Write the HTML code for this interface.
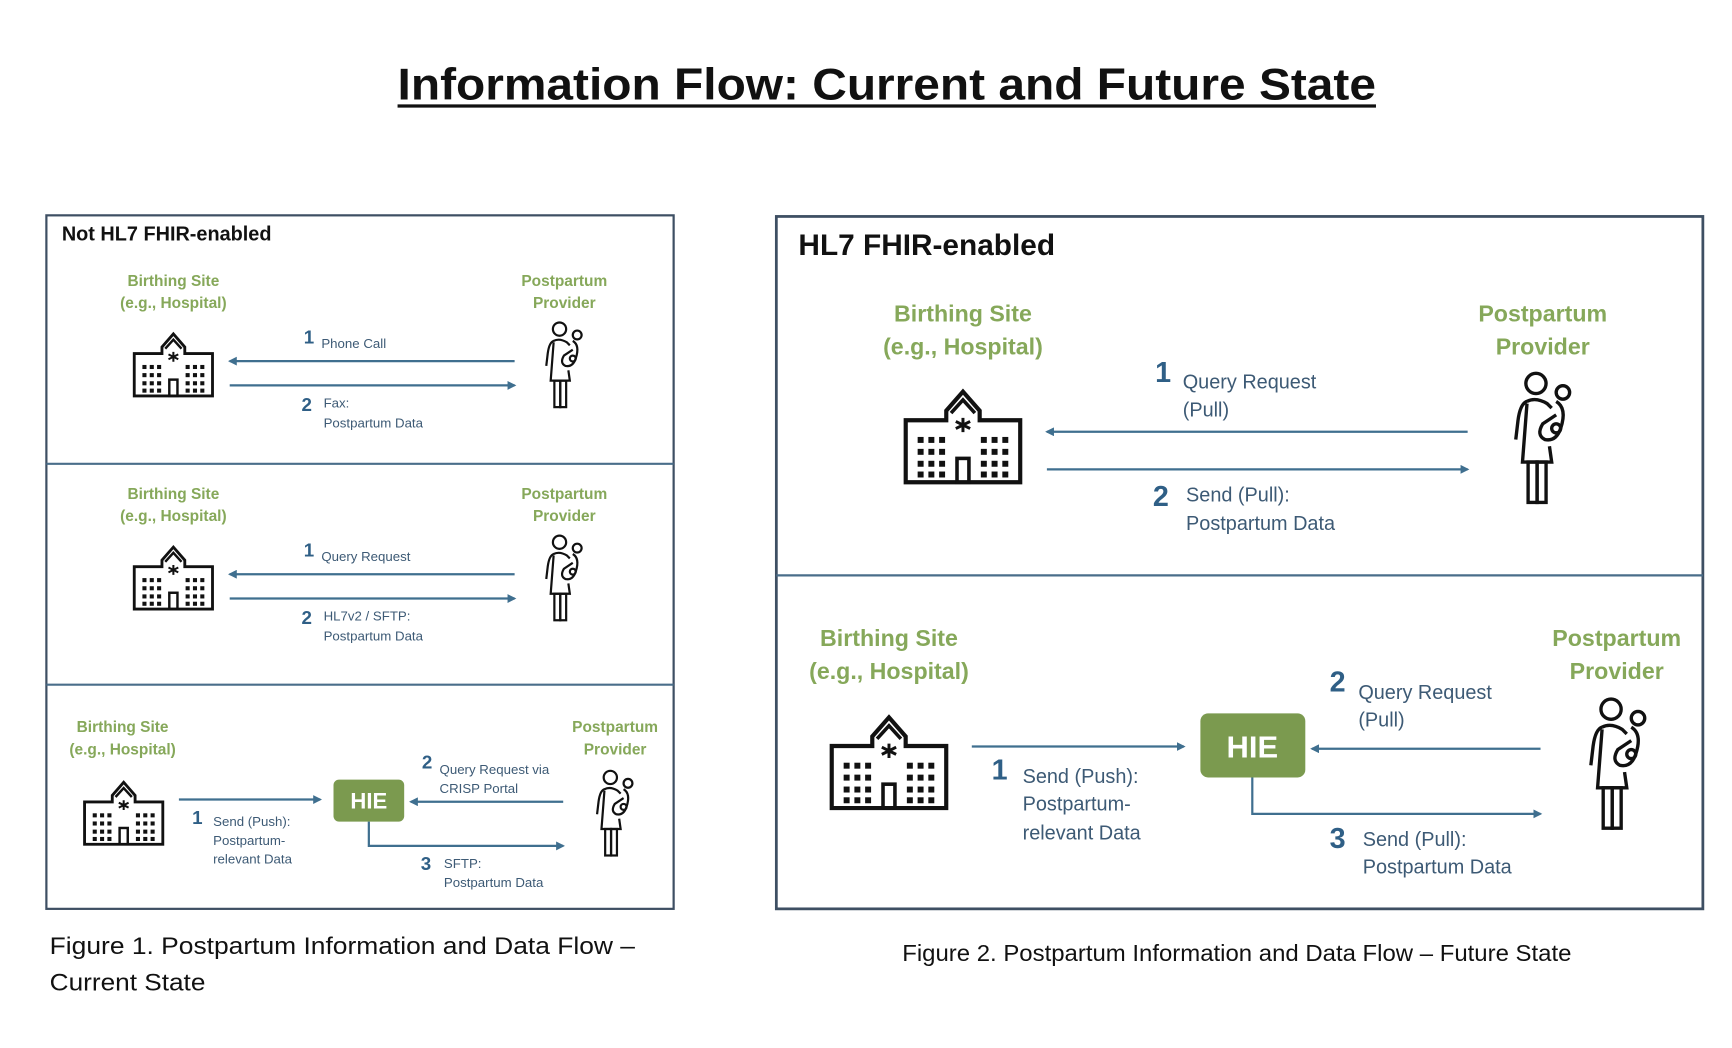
<!DOCTYPE html>
<html><head><meta charset="utf-8"><style>
html,body{margin:0;padding:0;background:#fff;}
svg{display:block;}
text{font-family:"Liberation Sans",sans-serif;}
.g{fill:#86a85a;font-weight:bold;text-anchor:middle;}
.b{fill:#2f5f86;font-weight:bold;}
.t{fill:#3d5a75;}
.ar{stroke:#3f6f8f;stroke-width:2;fill:none;}
</style></head><body>
<svg width="1732" height="1048" viewBox="0 0 1568 949" preserveAspectRatio="xMinYMin meet" xmlns="http://www.w3.org/2000/svg">
<defs>
<marker id="ah" viewBox="0 0 10 10" refX="8" refY="5" markerWidth="4" markerHeight="4" orient="auto"><path d="M0,0 L10,5 L0,10 Z" fill="#3f6f8f"/></marker>
<symbol id="hosp" viewBox="0 0 100 84">
<path d="M2,30 H36 V22 L50,6 L64,22 V30 H98 V82 H2 Z" fill="none" stroke="#111" stroke-width="3.5"/>
<path d="M40,24 L50,13 L60,24" fill="none" stroke="#111" stroke-width="3"/>
<path d="M50,28 V40 M44,31 L56,37 M56,31 L44,37" stroke="#111" stroke-width="2.5"/>
<rect x="45" y="62" width="10" height="20" fill="none" stroke="#111" stroke-width="3"/>
<g fill="#111">
<rect x="12" y="44" width="5" height="5"/><rect x="21" y="44" width="5" height="5"/><rect x="30" y="44" width="5" height="5"/>
<rect x="12" y="54" width="5" height="5"/><rect x="21" y="54" width="5" height="5"/><rect x="30" y="54" width="5" height="5"/>
<rect x="12" y="64" width="5" height="5"/><rect x="21" y="64" width="5" height="5"/><rect x="30" y="64" width="5" height="5"/>
<rect x="12" y="73" width="5" height="5"/><rect x="21" y="73" width="5" height="5"/><rect x="30" y="73" width="5" height="5"/>
<rect x="65" y="44" width="5" height="5"/><rect x="74" y="44" width="5" height="5"/><rect x="83" y="44" width="5" height="5"/>
<rect x="65" y="54" width="5" height="5"/><rect x="74" y="54" width="5" height="5"/><rect x="83" y="54" width="5" height="5"/>
<rect x="65" y="64" width="5" height="5"/><rect x="74" y="64" width="5" height="5"/><rect x="83" y="64" width="5" height="5"/>
<rect x="65" y="73" width="5" height="5"/><rect x="74" y="73" width="5" height="5"/><rect x="83" y="73" width="5" height="5"/>
</g>
</symbol>
<symbol id="pers" viewBox="0 0 60 120">
<g fill="none" stroke="#111" stroke-width="3">
<circle cx="22" cy="12" r="9"/>
<circle cx="46" cy="20" r="6"/>
<path d="M14,28 Q8,30 6,45 L4,62 M14,28 Q22,24 32,30 L36,34"/>
<path d="M14,30 L10,82 H36 L34,68"/>
<path d="M40,28 Q50,34 44,52 Q40,64 30,62 Q22,58 28,48 L40,40"/>
<circle cx="40" cy="52" r="4"/>
<rect x="15" y="82" width="8" height="36"/><rect x="23" y="82" width="8" height="36"/>
</g>
</symbol>
</defs>

<text x="803" y="90" font-size="40" font-weight="bold" text-anchor="middle" textLength="886" lengthAdjust="spacingAndGlyphs" fill="#111">Information Flow: Current and Future State</text>
<line x1="360" y1="96" x2="1246" y2="96" stroke="#111" stroke-width="3"/>

<rect x="42" y="195" width="568" height="628" fill="none" stroke="#3e4f63" stroke-width="2"/>
<line x1="42" y1="420" x2="610" y2="420" stroke="#4a6e8a" stroke-width="2"/>
<line x1="42" y1="620" x2="610" y2="620" stroke="#4a6e8a" stroke-width="2"/>
<text x="56" y="218" font-size="18" font-weight="bold" fill="#111">Not HL7 FHIR-enabled</text>

<g>
<text class="g" x="157" y="259" font-size="14">Birthing Site</text>
<text class="g" x="157" y="279" font-size="14">(e.g., Hospital)</text>
<text class="g" x="511" y="259" font-size="14">Postpartum</text>
<text class="g" x="511" y="279" font-size="14">Provider</text>
<use href="#hosp" x="118" y="298" width="78" height="62"/>
<use href="#pers" x="492" y="290" width="40" height="80"/>
<line class="ar" x1="466" y1="327" x2="208" y2="327" marker-end="url(#ah)"/>
<line class="ar" x1="208" y1="349" x2="466" y2="349" marker-end="url(#ah)"/>
<text class="b" x="275" y="311" font-size="17">1</text>
<text class="t" x="291" y="315" font-size="12">Phone Call</text>
<text class="b" x="273" y="372" font-size="17">2</text>
<text class="t" x="293" y="369" font-size="12">Fax:</text>
<text class="t" x="293" y="387" font-size="12">Postpartum Data</text>
</g>
<g transform="translate(0,193)">
<text class="g" x="157" y="259" font-size="14">Birthing Site</text>
<text class="g" x="157" y="279" font-size="14">(e.g., Hospital)</text>
<text class="g" x="511" y="259" font-size="14">Postpartum</text>
<text class="g" x="511" y="279" font-size="14">Provider</text>
<use href="#hosp" x="118" y="298" width="78" height="62"/>
<use href="#pers" x="492" y="290" width="40" height="80"/>
<line class="ar" x1="466" y1="327" x2="208" y2="327" marker-end="url(#ah)"/>
<line class="ar" x1="208" y1="349" x2="466" y2="349" marker-end="url(#ah)"/>
<text class="b" x="275" y="311" font-size="17">1</text>
<text class="t" x="291" y="315" font-size="12">Query Request</text>
<text class="b" x="273" y="372" font-size="17">2</text>
<text class="t" x="293" y="369" font-size="12">HL7v2 / SFTP:</text>
<text class="t" x="293" y="387" font-size="12">Postpartum Data</text>
</g>
<text class="g" x="111" y="663" font-size="14">Birthing Site</text>
<text class="g" x="111" y="683" font-size="14">(e.g., Hospital)</text>
<text class="g" x="557" y="663" font-size="14">Postpartum</text>
<text class="g" x="557" y="683" font-size="14">Provider</text>
<use href="#hosp" x="73" y="704" width="78" height="62"/>
<use href="#pers" x="538" y="696" width="40" height="80"/>
<rect x="302" y="706" width="64" height="38" rx="5" fill="#7b9a4f"/>
<text x="334" y="732" font-size="20" font-weight="bold" fill="#fff" text-anchor="middle">HIE</text>
<line class="ar" x1="162" y1="724" x2="290" y2="724" marker-end="url(#ah)"/>
<line class="ar" x1="510" y1="726" x2="372" y2="726" marker-end="url(#ah)"/>
<polyline class="ar" points="334,744 334,766 510,766" marker-end="url(#ah)"/>
<text class="b" x="174" y="746" font-size="17">1</text>
<text class="t" x="193" y="748" font-size="12">Send (Push):</text>
<text class="t" x="193" y="765" font-size="12">Postpartum-</text>
<text class="t" x="193" y="782" font-size="12">relevant Data</text>
<text class="b" x="382" y="696" font-size="17">2</text>
<text class="t" x="398" y="701" font-size="12">Query Request via</text>
<text class="t" x="398" y="718" font-size="12">CRISP Portal</text>
<text class="b" x="381" y="788" font-size="17">3</text>
<text class="t" x="402" y="786" font-size="12">SFTP:</text>
<text class="t" x="402" y="803" font-size="12">Postpartum Data</text>

<text x="45" y="864" font-size="22" fill="#111" textLength="530" lengthAdjust="spacingAndGlyphs">Figure 1. Postpartum Information and Data Flow –</text>
<text x="45" y="897" font-size="22" fill="#111" textLength="141" lengthAdjust="spacingAndGlyphs">Current State</text>

<rect x="703" y="196" width="839" height="627" fill="none" stroke="#3e4f63" stroke-width="2.5"/>
<line x1="703" y1="521" x2="1542" y2="521" stroke="#4a6e8a" stroke-width="2"/>
<text x="723" y="231" font-size="27" font-weight="bold" fill="#111">HL7 FHIR-enabled</text>

<text class="g" x="872" y="291" font-size="21">Birthing Site</text>
<text class="g" x="872" y="321" font-size="21">(e.g., Hospital)</text>
<text class="g" x="1397" y="291" font-size="21">Postpartum</text>
<text class="g" x="1397" y="321" font-size="21">Provider</text>
<use href="#hosp" x="818" y="348" width="108" height="91"/>
<use href="#pers" x="1368" y="335" width="62" height="122"/>
<line class="ar" x1="1329" y1="391" x2="948" y2="391" stroke-width="2.5" marker-end="url(#ah)"/>
<line class="ar" x1="948" y1="425" x2="1329" y2="425" stroke-width="2.5" marker-end="url(#ah)"/>
<text class="b" x="1046" y="346" font-size="26">1</text>
<text class="t" x="1071" y="352" font-size="18">Query Request</text>
<text class="t" x="1071" y="377" font-size="18">(Pull)</text>
<text class="b" x="1044" y="458" font-size="26">2</text>
<text class="t" x="1074" y="454" font-size="18">Send (Pull):</text>
<text class="t" x="1074" y="480" font-size="18">Postpartum Data</text>

<text class="g" x="805" y="585" font-size="21">Birthing Site</text>
<text class="g" x="805" y="615" font-size="21">(e.g., Hospital)</text>
<text class="g" x="1464" y="585" font-size="21">Postpartum</text>
<text class="g" x="1464" y="615" font-size="21">Provider</text>
<use href="#hosp" x="751" y="643" width="108" height="91"/>
<use href="#pers" x="1436" y="630" width="62" height="122"/>
<rect x="1087" y="646" width="95" height="58" rx="7" fill="#7b9a4f"/>
<text x="1134" y="686" font-size="28" font-weight="bold" fill="#fff" text-anchor="middle">HIE</text>
<line class="ar" x1="880" y1="676" x2="1072" y2="676" stroke-width="2.5" marker-end="url(#ah)"/>
<line class="ar" x1="1395" y1="678" x2="1188" y2="678" stroke-width="2.5" marker-end="url(#ah)"/>
<polyline class="ar" points="1134,704 1134,737 1395,737" stroke-width="2.5" marker-end="url(#ah)"/>
<text class="b" x="898" y="706" font-size="26">1</text>
<text class="t" x="926" y="709" font-size="18">Send (Push):</text>
<text class="t" x="926" y="734" font-size="18">Postpartum-</text>
<text class="t" x="926" y="760" font-size="18">relevant Data</text>
<text class="b" x="1204" y="626" font-size="26">2</text>
<text class="t" x="1230" y="633" font-size="18">Query Request</text>
<text class="t" x="1230" y="658" font-size="18">(Pull)</text>
<text class="b" x="1204" y="768" font-size="26">3</text>
<text class="t" x="1234" y="766" font-size="18">Send (Pull):</text>
<text class="t" x="1234" y="791" font-size="18">Postpartum Data</text>

<text x="1120" y="870" font-size="21" fill="#111" text-anchor="middle" textLength="606" lengthAdjust="spacingAndGlyphs">Figure 2. Postpartum Information and Data Flow – Future State</text>
</svg>
</body></html>
